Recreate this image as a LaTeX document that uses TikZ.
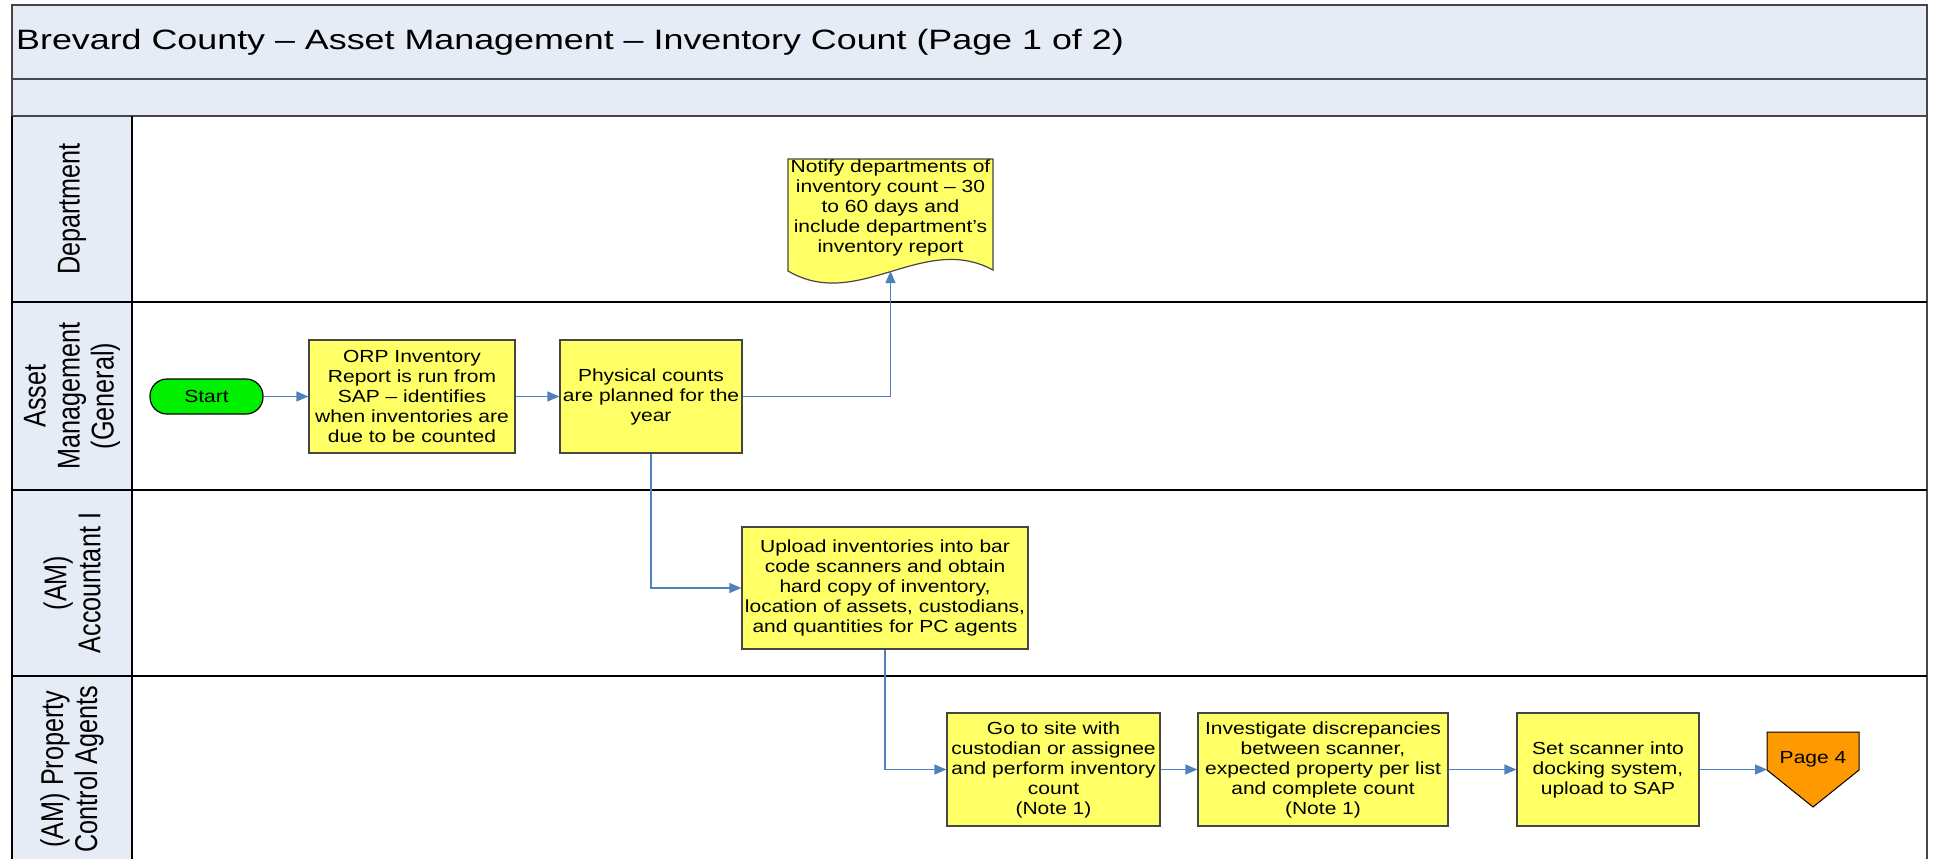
\documentclass[tikz,border=0pt]{standalone}
\usepackage{fontspec}
\setmainfont{Liberation Sans}[FakeStretch=1.2]
\newfontfamily\titlefont{Liberation Sans}[FakeStretch=1.28]
\newfontfamily\lanefont{Liberation Sans}[FakeStretch=0.8]
\usepackage{tikz}
\usetikzlibrary{arrows.meta}

\definecolor{lanebg}{RGB}{230,236,246}
\definecolor{boxyellow}{RGB}{255,255,102}
\definecolor{startgreen}{RGB}{0,240,0}
\definecolor{pageorange}{RGB}{255,153,0}
\definecolor{flowblue}{RGB}{79,129,189}
\definecolor{boxedge}{RGB}{70,70,70}

\tikzset{
	procbox/.style={draw=boxedge, line width=1.2pt, fill=boxyellow, align=center, inner sep=2pt, font=\fontsize{17.5}{20}\selectfont},
	lanelabel/.style={rotate=90, align=center, font=\lanefont\fontsize{31.5}{34}\selectfont},
	flow/.style={draw=flowblue, line width=1.3pt, -{Triangle[length=12pt,width=10pt]}},
	laneline/.style={line width=1.6pt, draw=black},
}

\begin{document}
\begin{tikzpicture}[x=1pt, y=-1pt]
			\useasboundingbox (0,0) rectangle (1935,859);
			% title bands and lane heads
			\fill[lanebg] (12,5) rectangle (1927,116);
			\fill[lanebg] (12,116) rectangle (132,859);
			\draw[laneline, draw=boxedge] (12,5) rectangle (1927,79);
			\draw[laneline, draw=boxedge] (12,79) rectangle (1927,116);
			\draw[laneline] (12,116) -- (12,859);
			\draw[laneline] (132,116) -- (132,859);
			\draw[laneline, draw=boxedge] (1927,116) -- (1927,859);
			\foreach \y in {302,490,676}
				\draw[laneline] (12,\y) -- (1927,\y);
			\node[anchor=base west, inner sep=0pt, font=\titlefont\fontsize{28}{34}\selectfont] (title) at (16,50) {Brevard County – Asset Management – Inventory Count (Page 1 of 2)};
			\node[lanelabel] (lanedept) at (72,209) {Department};
			\node[lanelabel] (laneam) at (72,396) {Asset\\Management\\(General)};
			\node[lanelabel] (laneacc) at (72,583) {(AM)\\Accountant I};
			\node[lanelabel] (lanepca) at (72,769) {(AM) Property\\Control Agents};

			% steps
			\node[draw=black, line width=1.2pt, fill=startgreen, rounded corners=17pt, minimum width=113pt, minimum height=35pt, font=\fontsize{17.5}{20}\selectfont] (start) at (206.5,396.5) {Start};
			\node[procbox, minimum width=206pt, minimum height=113pt] (orp) at (412,396.5) {ORP Inventory\\Report is run from\\SAP – identifies\\when inventories are\\due to be counted};
			\node[procbox, minimum width=182pt, minimum height=113pt] (phys) at (651,396.5) {Physical counts\\are planned for the\\year};
			\draw[draw=boxedge, line width=1.2pt, fill=boxyellow] (788,159) -- (993,159) -- (993,270) .. controls (923,232) and (858,312) .. (788,271) -- cycle;
			\node[align=center, font=\fontsize{17.5}{20}\selectfont] (notify) at (890.5,208) {Notify departments of\\inventory count – 30\\to 60 days and\\include department’s\\inventory report};
			\coordinate (notifyin) at (890.5,271);
			\node[procbox, minimum width=286pt, minimum height=122pt] (upload) at (885,588) {Upload inventories into bar\\code scanners and obtain\\hard copy of inventory,\\location of assets, custodians,\\and quantities for PC agents};
			\node[procbox, minimum width=213pt, minimum height=113pt] (gosite) at (1053.5,769.5) {Go to site with\\custodian or assignee\\and perform inventory\\count\\(Note 1)};
			\node[procbox, minimum width=250pt, minimum height=113pt] (invest) at (1323,769.5) {Investigate discrepancies\\between scanner,\\expected property per list\\and complete count\\(Note 1)};
			\node[procbox, minimum width=182pt, minimum height=113pt] (setscan) at (1608,769.5) {Set scanner into\\docking system,\\upload to SAP};
			\draw[draw=black, line width=1pt, fill=pageorange] (1767,732) -- (1859,732) -- (1859,770) -- (1813,807) -- (1767,770) -- cycle;
			\node[font=\fontsize{17.5}{20}\selectfont] (page4) at (1813,759) {Page 4};
			\coordinate (page4in) at (1767,769.5);

			% flow
			\draw[flow] (start) -- (orp);
			\draw[flow] (orp) -- (phys);
			\draw[flow] (phys.east) -| (notifyin);
			\draw[flow] (phys.south) |- (upload.west);
			\draw[flow] (upload.south) |- (gosite.west);
			\draw[flow] (gosite) -- (invest);
			\draw[flow] (invest) -- (setscan);
			\draw[flow] (setscan.east) -- (page4in);
		\end{tikzpicture}
\end{document}
